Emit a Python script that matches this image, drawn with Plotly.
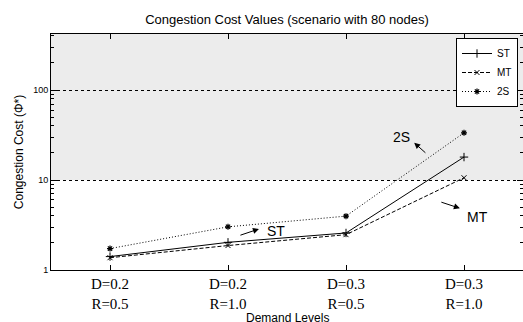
import plotly.graph_objects as go
import math

categories = ["D=0.2<br>R=0.5", "D=0.2<br>R=1.0", "D=0.3<br>R=0.5", "D=0.3<br>R=1.0"]
st_values = [1.41, 2.03, 2.58, 18.0]
mt_values = [1.37, 1.87, 2.47, 10.6]
s2_values = [1.73, 3.02, 3.97, 33.5]
shade_from = 10
y_max = 420

xs = list(range(len(categories)))

fig = go.Figure()
fig.add_trace(go.Scatter(x=xs, y=st_values, name="ST", mode="lines+markers",
                         line=dict(color="black", width=1, dash="solid"),
                         marker=dict(symbol="cross-thin", size=6, color="black",
                                     line=dict(color="black", width=1))))
fig.add_trace(go.Scatter(x=xs, y=mt_values, name="MT", mode="lines+markers",
                         line=dict(color="black", width=1, dash="4px,2px"),
                         marker=dict(symbol="x-thin", size=5, color="black",
                                     line=dict(color="black", width=1))))
fig.add_trace(go.Scatter(x=xs, y=s2_values, name="2S", mode="lines+markers",
                         line=dict(color="black", width=1, dash="1px,2px"),
                         marker=dict(symbol="asterisk", size=5, color="black",
                                     line=dict(color="black", width=1.2))))

# shaded region above threshold
fig.add_shape(type="rect", xref="paper", yref="y", x0=0, x1=1,
              y0=shade_from, y1=y_max, fillcolor="#ececec", line_width=0, layer="below")

# annotations with arrows
arrow_kw = dict(showarrow=True, arrowhead=2, arrowsize=1.2, arrowwidth=1, arrowcolor="black",
                axref="pixel", ayref="pixel", text="")
fig.add_annotation(x=2.578, y=1.414, ax=12.7, ay=11.3, **arrow_kw)
fig.add_annotation(x=1.262, y=0.456, ax=-20, ay=6.7, **arrow_kw)
fig.add_annotation(x=2.965, y=0.686, ax=-20, ay=-6.6, **arrow_kw)
txt_kw = dict(showarrow=False, font=dict(family="Liberation Sans", size=14, color="black"))
fig.add_annotation(x=2.474, y=1.481, text="2S", **txt_kw)
fig.add_annotation(x=1.403, y=0.433, text="ST", **txt_kw)
fig.add_annotation(x=3.113, y=0.592, text="MT", **txt_kw)

# x axis title as annotation for precise placement
fig.add_annotation(xref="paper", yref="paper", x=0.5, y=-(309 - 270) / 236,
                   yanchor="top", showarrow=False, text="Demand Levels",
                   font=dict(family="Liberation Sans", size=12, color="black"))

fig.update_layout(
    width=523, height=322,
    margin=dict(l=51, r=0, t=34, b=52, autoexpand=False),
    paper_bgcolor="white", plot_bgcolor="white",
    title=dict(text="Congestion Cost Values (scenario with 80 nodes)",
               x=(51 + 236) / 523, xanchor="center", y=1 - 19 / 322, yanchor="middle",
               font=dict(family="Liberation Sans", size=13, color="black")),
    showlegend=True,
    legend=dict(x=(518 - 51) / 472, xanchor="right", y=(270 - 38) / 236, yanchor="top",
                bgcolor="white", bordercolor="black", borderwidth=1,
                font=dict(family="Liberation Sans", size=10, color="black"),
                tracegroupgap=0, itemwidth=30),
    font=dict(family="Liberation Sans", color="black"),
)

fig.update_xaxes(
    range=[-0.5, 3.5], tickvals=xs, ticktext=categories,
    ticks="inside", ticklen=5, tickcolor="black", mirror="ticks",
    showline=True, linecolor="black", linewidth=1, showgrid=False, zeroline=False,
    tickfont=dict(family="Liberation Serif", size=15, color="black"),
)
fig.update_yaxes(
    type="log", range=[0, math.log10(y_max)], dtick=1,
    ticks="inside", ticklen=6, tickcolor="black", mirror="allticks",
    showline=True, linecolor="black", linewidth=1,
    showgrid=True, gridcolor="black", griddash="dot", gridwidth=1,
    zeroline=False,
    minor=dict(dtick="D1", ticks="inside", ticklen=3, tickcolor="black", showgrid=False),
    tickfont=dict(family="Liberation Sans", size=9, color="black"),
    title=dict(text="Congestion Cost (Φ*)", standoff=6,
               font=dict(family="Liberation Sans", size=12, color="black")),
)

fig.write_html("out.html", post_script="document.body.style.margin='0';",
               config={"displayModeBar": False})
